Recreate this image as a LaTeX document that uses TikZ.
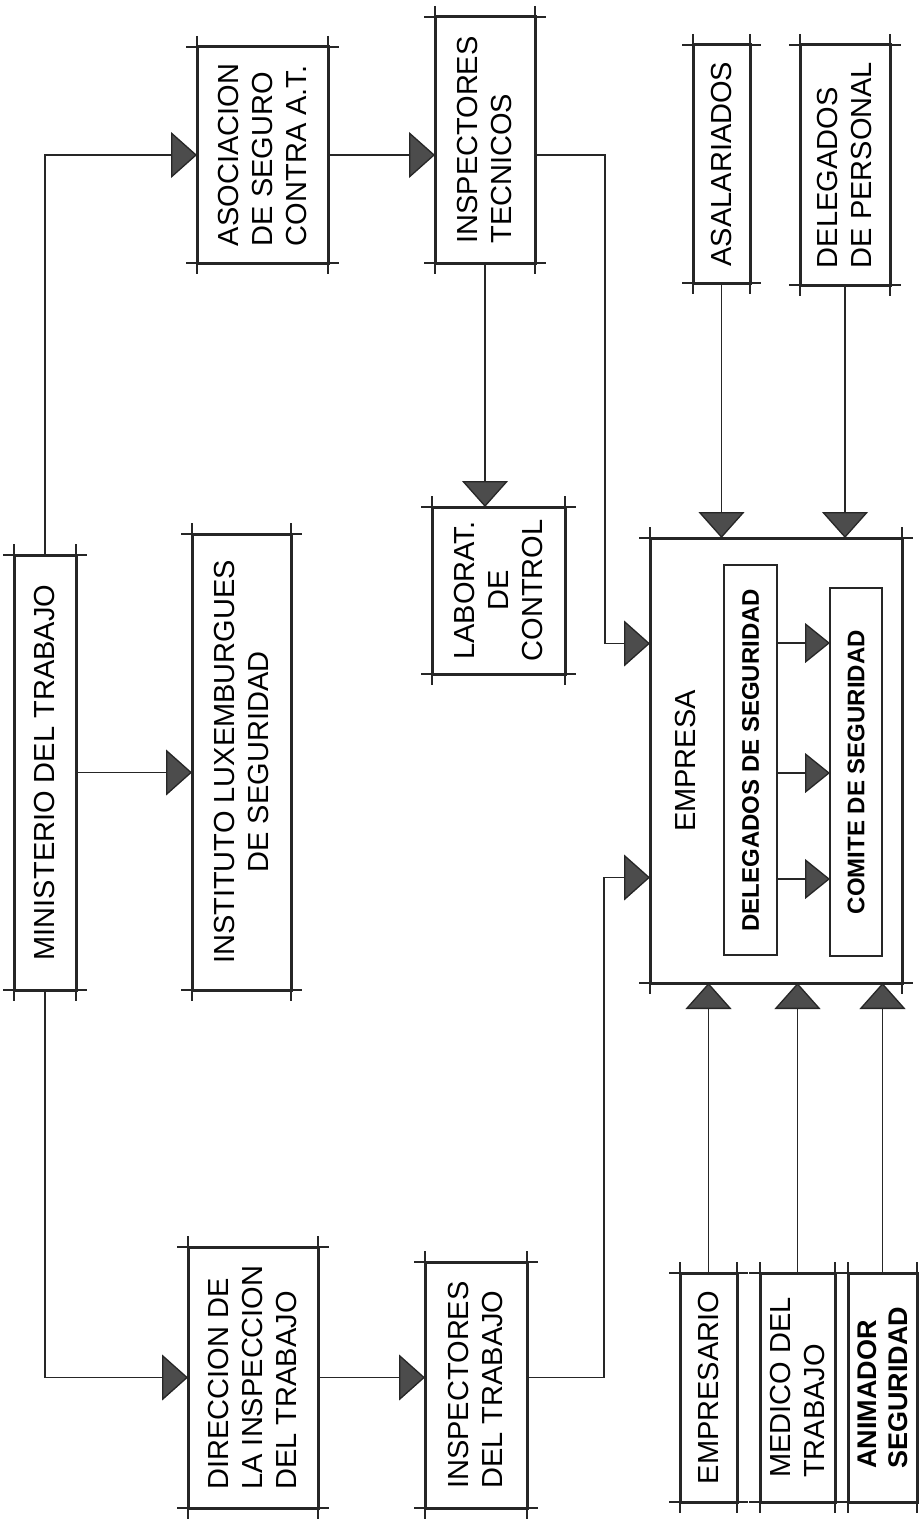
\documentclass[tikz,border=0pt]{standalone}
\usepackage{fontspec}
\newfontfamily\letrafont{Liberation Sans}
\usetikzlibrary{arrows.meta, positioning}

\begin{document}
\begin{tikzpicture}[x=1pt, y=-1pt,
        caja/.style={draw=black!85, line width=3pt, inner sep=0pt, outer sep=0pt},
        cajita/.style={draw=black!85, line width=1.4pt, inner sep=0pt, outer sep=0pt},
        texto/.style={rotate=90, align=left, inner sep=0pt, font=\letrafont\fontsize{29}{34}\selectfont},
        textob/.style={rotate=90, align=left, inner sep=0pt, font=\letrafont\bfseries\fontsize{24}{28}\selectfont},
        marca/.style={draw=black!85, line width=1.1pt},
        linea/.style={draw=black!85, line width=1.3pt, -{Triangle[length=26pt, width=46pt, fill=black!70]}},
        flechita/.style={draw=black!85, line width=1.3pt, -{Triangle[length=25pt, width=40pt, fill=black!70]}}]
    \useasboundingbox (0,0) rectangle (918,1520);

    % Columna izquierda
    \node [caja, minimum width=62, minimum height=435, label={[texto, name=min-t]center:MINISTERIO DEL TRABAJO}] (min) at (45,772.5) {};
    \node [caja, minimum width=99, minimum height=456, label={[texto, align=center, name=inst-t]center:INSTITUTO LUXEMBURGUES\\DE SEGURIDAD}] (inst) at (241.5,762) {};
    \node [caja, minimum width=131, minimum height=216, label={[texto, name=asoc-t]center:ASOCIACION\\DE SEGURO\\CONTRA A.T.}] (asoc) at (262.5,155) {};
    \node [caja, minimum width=130, minimum height=261, label={[texto, name=dir-t]center:DIRECCION DE\\LA INSPECCION\\DEL TRABAJO}] (dir) at (253,1377.5) {};

    % Inspectores
    \node [caja, minimum width=100, minimum height=246, label={[texto, name=insptec-t]center:INSPECTORES\\TECNICOS}] (insptec) at (485,140) {};
    \node [caja, minimum width=133, minimum height=167, label={[texto, align=center, name=labor-t]center:LABORAT.\\DE\\CONTROL}] (labor) at (498.5,590.5) {};
    \node [caja, minimum width=102, minimum height=246, label={[texto, name=insptrab-t]center:INSPECTORES\\DEL TRABAJO}] (insptrab) at (476,1385) {};

    % Empresa
    \node [caja, minimum width=57, minimum height=238, label={[texto, name=asal-t]center:ASALARIADOS}] (asal) at (721.5,164) {};
    \node [caja, minimum width=90, minimum height=240, label={[texto, name=delper-t]center:DELEGADOS\\DE PERSONAL}] (delper) at (845,165) {};
    \node [caja, minimum width=252, minimum height=445] (empresa) at (776,760.5) {};
    \node [texto] (emp-t) at (686,761) {EMPRESA};
    \node [cajita, minimum width=53, minimum height=390, label={[textob, name=delseg-t]center:DELEGADOS DE SEGURIDAD}] (delseg) at (750.5,760) {};
    \node [cajita, minimum width=52, minimum height=368, label={[textob, name=comite-t]center:COMITE DE SEGURIDAD}] (comite) at (856,772) {};

    % Abajo
    \node [caja, minimum width=57, minimum height=229, label={[texto, name=emprio-t]center:EMPRESARIO}] (emprio) at (708.5,1387.5) {};
    \node [caja, minimum width=75, minimum height=229, label={[texto, name=medico-t]center:MEDICO DEL\\TRABAJO}] (medico) at (797.5,1387.5) {};
    \node [caja, minimum width=69, minimum height=229, label={[texto, font=\letrafont\bfseries\fontsize{27}{31}\selectfont, name=anim-t]center:ANIMADOR\\SEGURIDAD}] (anim) at (882.5,1387.5) {};

    % marcas de las esquinas
    \foreach \n in {min,inst,asoc,dir,insptec,labor,insptrab,asal,delper,empresa,emprio,medico,anim} {
        \draw [marca] ([xshift=-11pt]\n.north west) -- ([xshift=11pt]\n.north east);
        \draw [marca] ([xshift=-11pt]\n.south west) -- ([xshift=11pt]\n.south east);
        \draw [marca] ([yshift=11pt]\n.north west) -- ([yshift=-11pt]\n.south west);
        \draw [marca] ([yshift=11pt]\n.north east) -- ([yshift=-11pt]\n.south east);
    }

    % conexiones
    \draw [linea] (min.north) |- (asoc.west);
    \draw [linea] (asoc.east) -- (asoc.east -| insptec.west);
    \draw [linea] (asoc.east -| insptec.east) -- ++(70,0) |- ([yshift=117pt]empresa.west);
    \draw [linea] (insptec.south) -- (insptec.south |- labor.north);
    \draw [linea] (min.east) -- (min.east -| inst.west);
    \draw [linea] (min.south) |- (dir.west);
    \draw [linea] (dir.east) -- (dir.east -| insptrab.west);
    \draw [linea] (dir.east -| insptrab.east) -- ++(77,0) |- ([yshift=-117pt]empresa.west);
    \draw [linea] (asal.south) -- (asal.south |- empresa.north);
    \draw [linea] (delper.south) -- (delper.south |- empresa.north);
    \foreach \s in {117,-13,-119}
        \draw [flechita] ([yshift=\s pt]delseg.east) -- ([yshift=\s pt]delseg.east -| comite.west);
    \foreach \n in {emprio,medico,anim}
        \draw [linea] (\n.north) -- (\n.north |- empresa.south);
\end{tikzpicture}
\end{document}
